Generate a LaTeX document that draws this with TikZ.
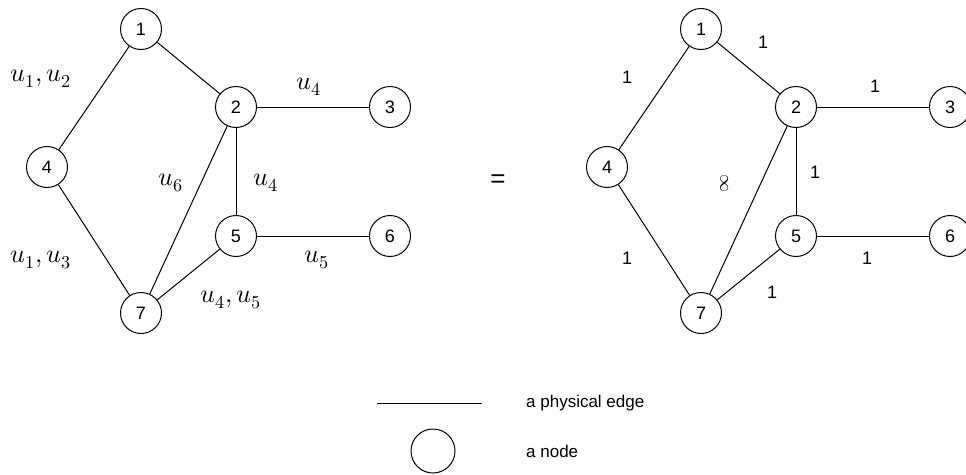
\documentclass[tikz,border=0pt]{standalone}
\usepackage{unicode-math}
\setmainfont{Liberation Sans}
\setmathfont{Latin Modern Math}
\begin{document}
\begin{tikzpicture}[x=1pt,y=-1pt,
  vtx/.style={circle,draw,line width=1pt,minimum size=41pt,inner sep=0pt,font=\fontsize{18}{20}\selectfont},
  edge/.style={line width=1pt},
  ulab/.style={font=\fontsize{26}{28}\selectfont,inner sep=0pt},
  wlab/.style={font=\fontsize{18}{20}\selectfont,inner sep=0pt},
  legtxt/.style={font=\fontsize{17}{19}\selectfont,anchor=west,inner sep=0pt}]
\useasboundingbox (0,0) rectangle (966,474);
% left graph
\node[vtx] (a1) at (141,29) {1};
\node[vtx] (a2) at (236,107) {2};
\node[vtx] (a3) at (390,107) {3};
\node[vtx] (a4) at (47,167) {4};
\node[vtx] (a5) at (236,236) {5};
\node[vtx] (a6) at (390,236) {6};
\node[vtx] (a7) at (141,313) {7};
\draw[edge] (a1) -- (a4);
\draw[edge] (a1) -- (a2);
\draw[edge] (a2) -- (a3);
\draw[edge] (a2) -- (a5);
\draw[edge] (a2) -- (a7);
\draw[edge] (a4) -- (a7);
\draw[edge] (a5) -- (a6);
\draw[edge] (a5) -- (a7);
\node[ulab] (la14) at (41,79) {$u_1,u_2$};
\node[ulab] (la23) at (309,87) {$u_4$};
\node[ulab] (la27) at (171,183) {$u_6$};
\node[ulab] (la25) at (266,183) {$u_4$};
\node[ulab] (la47) at (41,260) {$u_1,u_3$};
\node[ulab] (la56) at (317,260) {$u_5$};
\node[ulab] (la57) at (231,300) {$u_4,u_5$};
% equals
\node[font=\fontsize{26}{28}\selectfont] (eq) at (498,181) {=};
% right graph
\node[vtx] (b1) at (701,29) {1};
\node[vtx] (b2) at (796,107) {2};
\node[vtx] (b3) at (950,107) {3};
\node[vtx] (b4) at (607,167) {4};
\node[vtx] (b5) at (796,236) {5};
\node[vtx] (b6) at (950,236) {6};
\node[vtx] (b7) at (701,313) {7};
\draw[edge] (b1) -- (b4);
\draw[edge] (b1) -- (b2);
\draw[edge] (b2) -- (b3);
\draw[edge] (b2) -- (b5);
\draw[edge] (b2) -- (b7);
\draw[edge] (b4) -- (b7);
\draw[edge] (b5) -- (b6);
\draw[edge] (b5) -- (b7);
\node[wlab] (lb12) at (763,42) {1};
\node[wlab] (lb14) at (627,77) {1};
\node[wlab] (lb23) at (875,86) {1};
\node[wlab] (lb25) at (815,172) {1};
\node[wlab,rotate=90] (lb27) at (725,183) {$\infty$};
\node[wlab] (lb47) at (627,258) {1};
\node[wlab] (lb56) at (867,258) {1};
\node[wlab] (lb57) at (772,292) {1};
% legend
\coordinate (l1) at (377,403);
\coordinate (l2) at (482,403);
\draw[edge] (l1) -- (l2);
\node[legtxt] (t1) at (526,403) {a physical edge};
\node[vtx,minimum size=44pt] (lc) at (433,451) {};
\node[legtxt] (t2) at (526,451) {a node};
\end{tikzpicture}
\end{document}
